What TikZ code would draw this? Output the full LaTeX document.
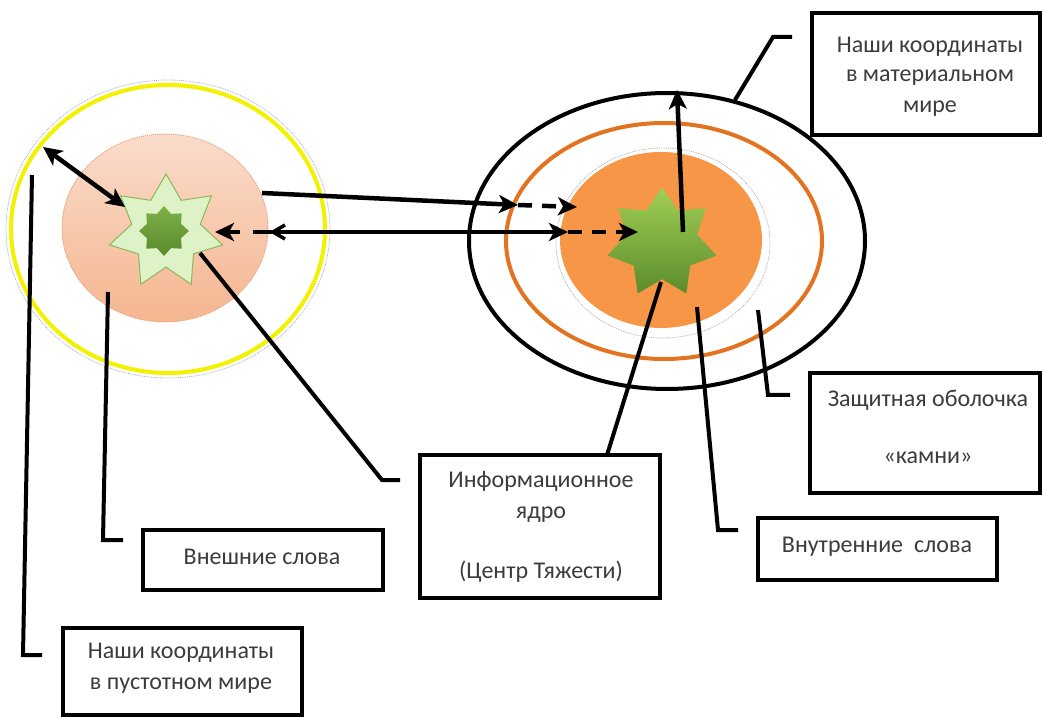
\documentclass[tikz,border=0pt]{standalone}
\usepackage{fontspec}
\setmainfont{Carlito}
\usetikzlibrary{shapes.geometric,arrows.meta}
\definecolor{txt}{HTML}{3C3C3C}
\definecolor{yel}{HTML}{F2F200}
\definecolor{peachT}{HTML}{FADCCB}
\definecolor{peachB}{HTML}{F5B690}
\definecolor{peachD}{HTML}{E9A07A}
\definecolor{orng}{HTML}{F79646}
\definecolor{orngR}{HTML}{E3731F}
\definecolor{lgreen}{HTML}{DDF2C6}
\definecolor{lgreenD}{HTML}{8DB85A}
\definecolor{dgreenT}{HTML}{7FB047}
\definecolor{dgreenB}{HTML}{5A8A2C}
\definecolor{gT}{HTML}{A2CF55}
\definecolor{gB}{HTML}{5B8C2C}
\tikzset{bigtip/.tip={Stealth[length=19pt,width=18pt,inset=5pt]}}
\begin{document}
\begin{tikzpicture}[x=1pt,y=-1pt,
  lbl/.style={font=\fontsize{24}{28}\selectfont, text=txt, align=center, inner sep=0pt},
  boxx/.style={draw=black, line width=4pt, rectangle, inner sep=0pt},
  conn/.style={line width=4pt, black, line join=miter},
  arr/.style={line width=4.5pt, black, -bigtip},
  darr/.style={arr, dash pattern=on 14pt off 10pt},
  ring/.style={ellipse, inner sep=0pt},
  glow/.style={ellipse, inner sep=0pt, draw=gray!65, densely dotted, line width=0.8pt}
]
\useasboundingbox (0,0) rectangle (1042,719);
\fill[white] (0,0) rectangle (1042,719);

% ---- left system ----
\node[glow, minimum width=324pt, minimum height=298pt] (ylg) at (168,229) {};
\node[ring, draw=yel, line width=4pt, minimum width=314pt, minimum height=288pt] (yc) at (168,229) {};
\node[ring, draw=peachD, densely dotted, line width=1pt, top color=peachT, bottom color=peachB, minimum width=206pt, minimum height=188pt] (pe) at (165,228) {};
\node[star, star points=7, star point ratio=1.65, minimum size=116pt, inner sep=0pt, fill=lgreen, draw=lgreenD, line width=1pt] (ls) at (166,232) {};
\node[star, star points=8, star point ratio=1.35, minimum size=50pt, inner sep=0pt, top color=dgreenT, bottom color=dgreenB] (ds) at (164,231) {};

% ---- right system ----
\node[ring, draw=black, line width=4pt, minimum width=396pt, minimum height=296pt] (bk) at (667,241) {};
\node[ring, draw=orngR, line width=4pt, minimum width=316pt, minimum height=236pt] (orr) at (664,241) {};
\node[glow, minimum width=214pt, minimum height=190pt] (og) at (663,243) {};
\node[ring, fill=orng, minimum width=202pt, minimum height=176pt] (oc) at (661,240) {};
\node[star, star points=7, star point ratio=1.55, minimum size=112pt, inner sep=0pt, top color=gT, bottom color=gB] (gs) at (662,243) {};

% ---- boxes ----
\node[boxx, minimum width=228pt, minimum height=122pt] (b1) at (926,74) {};
\node[boxx, minimum width=230pt, minimum height=120pt] (b2) at (925,433) {};
\node[boxx, minimum width=239pt, minimum height=62pt] (b3) at (877.5,549) {};
\node[boxx, minimum width=240pt, minimum height=143pt] (b4) at (540,526.5) {};
\node[boxx, minimum width=240pt, minimum height=60pt] (b5) at (263,560) {};
\node[boxx, minimum width=239pt, minimum height=87pt] (b6) at (182.5,671.5) {};

% ---- texts ----
\node[lbl] (t1a) at (930,47) {Наши координаты};
\node[lbl] (t1b) at (930,78) {в материальном};
\node[lbl] (t1c) at (930,109) {мире};
\node[lbl] (t2a) at (928,400) {Защитная оболочка};
\node[lbl] (t2b) at (928,458) {«камни»};
\node[lbl] (t3) at (877,547) {Внутренние\ \ слова};
\node[lbl] (t4a) at (541,481) {Информационное};
\node[lbl] (t4b) at (541,515) {ядро};
\node[lbl] (t4c) at (541,572) {(Центр Тяжести)};
\node[lbl] (t5) at (262,557) {Внешние слова};
\node[lbl] (t6a) at (181,653) {Наши координаты};
\node[lbl] (t6b) at (181,686) {в пустотном мире};

% ---- connector anchor points ----
\coordinate (c1s) at (735,100);  \coordinate (c1k) at (773,37);  \coordinate (c1e) at (792,37);
\coordinate (c2s) at (758,310);  \coordinate (c2k) at (768,395); \coordinate (c2e) at (790,395);
\coordinate (c3s) at (697,307);  \coordinate (c3k) at (718,530); \coordinate (c3e) at (738,530);
\coordinate (c4s) at (661,282);  \coordinate (c4e) at (607,455);
\coordinate (c5s) at (200,253);  \coordinate (c5k) at (382,480); \coordinate (c5e) at (400,480);
\coordinate (c6s) at (108,292);  \coordinate (c6k) at (103,540); \coordinate (c6e) at (123,540);
\coordinate (c7s) at (32,175);   \coordinate (c7k) at (23,655);  \coordinate (c7e) at (42,655);

\draw[conn] (c1s) -- (c1k) -- (c1e);
\draw[conn] (c2s) -- (c2k) -- (c2e);
\draw[conn] (c3s) -- (c3k) -- (c3e);
\draw[conn] (c4s) -- (c4e);
\draw[conn] (c5s) -- (c5k) -- (c5e);
\draw[conn] (c6s) -- (c6k) -- (c6e);
\draw[conn] (c7s) -- (c7k) -- (c7e);

% ---- arrows ----
\coordinate (a1s) at (43,147);  \coordinate (a1e) at (125,207);
\draw[line width=4.5pt, bigtip-bigtip] (a1s) -- (a1e);

\coordinate (a2s) at (262,193); \coordinate (a2m) at (518,205); \coordinate (a2e) at (577,207);
\draw[arr] (a2s) -- (a2m);
\draw[darr] (a2m) -- (a2e);

\coordinate (a3s) at (253,232); \coordinate (a3m) at (568,232); \coordinate (a3e) at (638,232);
\coordinate (a3l) at (240,232); \coordinate (a3t) at (215,232);
\draw[arr] (a3s) -- (a3m);
\draw[darr] (a3m) -- (a3e);
\draw[arr] (a3l) -- (a3t);
\draw[line width=3.5pt] (285,225) -- (273,232) -- (285,239);

\coordinate (a4s) at (683,232); \coordinate (a4e) at (677,90);
\draw[arr] (a4s) -- (a4e);
\end{tikzpicture}
\end{document}
